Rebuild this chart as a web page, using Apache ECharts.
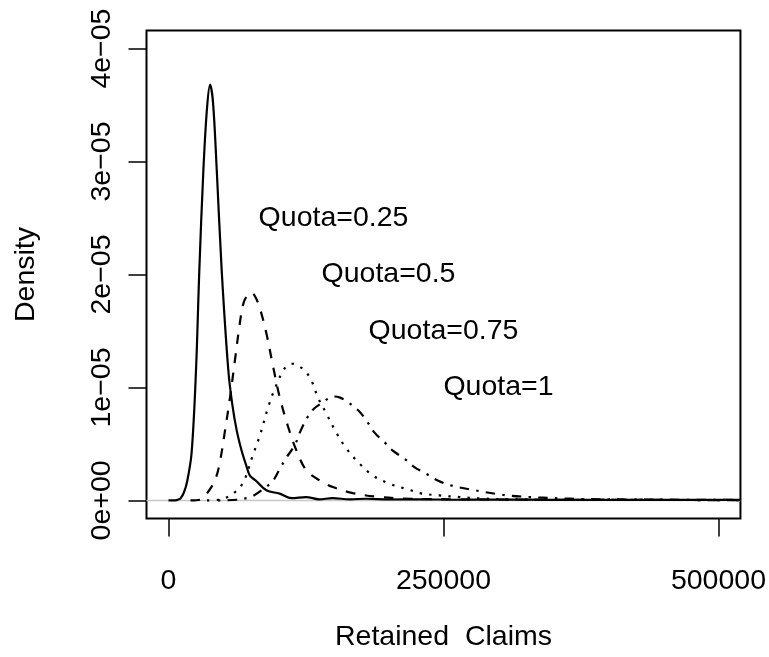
<!DOCTYPE html>
<html>
<head>
<meta charset="utf-8">
<script src="https://cdn.jsdelivr.net/npm/echarts@6/dist/echarts.min.js"></script>
<style>
html,body{margin:0;padding:0;background:#fff;}
#chart{width:769px;height:657px;}
</style>
</head>
<body>
<div id="chart"></div>
<script>
// Tick values / labels
const xTicks = [0, 250000, 500000];
const xTickLabels = ['0', '250000', '500000'];
const yTicks = [0, 1e-5, 2e-5, 3e-5, 4e-5];
const yTickLabels = ['0e+00', '1e\u221205', '2e\u221205', '3e\u221205', '4e\u221205'];

// Curve data (x = retained claims, y in units of 1e-5)
const q025X = [0, 5000, 8000, 11000, 14000, 17000, 21000, 25000, 28000, 31700, 35000, 37800, 40500, 43900, 48400, 54400, 58000, 62000, 66500, 71000, 74000, 80000, 89000, 101000, 112000, 125000, 137000, 149000, 165000, 180000, 200000, 230000, 260000, 300000, 350000, 400000, 450000, 520000];
const q025Y = [0, 0, 0.005, 0.02, 0.07, 0.17, 0.42, 1.15, 2.03, 2.92, 3.47, 3.68, 3.52, 2.92, 2.03, 1.15, 0.85, 0.62, 0.44, 0.30, 0.22, 0.17, 0.09, 0.06, 0.02, 0.03, 0.01, 0.02, 0.01, 0.015, 0.008, 0.01, 0.006, 0.008, 0.005, 0.006, 0.004, 0.004];

const q05X = [20000, 28700, 34800, 42300, 46900, 51400, 55900, 60400, 64300, 68000, 72000, 75600, 79000, 83100, 89200, 95200, 101200, 108800, 116400, 125400, 137500, 149500, 167700, 191900, 220000, 260000, 300000, 350000, 400000, 450000, 520000];
const q05Y = [0, 0.006, 0.06, 0.18, 0.35, 0.62, 0.91, 1.24, 1.53, 1.74, 1.82, 1.84, 1.80, 1.70, 1.47, 1.18, 0.91, 0.65, 0.44, 0.265, 0.177, 0.118, 0.065, 0.03, 0.015, 0.01, 0.008, 0.006, 0.005, 0.004, 0.003];

const q075X = [35000, 45000, 51400, 58900, 68000, 77000, 83100, 90600, 96700, 104200, 109000, 113000, 118000, 123900, 130000, 135900, 143500, 152600, 161700, 173700, 185900, 200900, 219000, 228000, 246200, 264400, 282500, 315700, 350000, 400000, 450000, 520000];
const q075Y = [0, 0.005, 0.02, 0.06, 0.16, 0.41, 0.575, 0.825, 0.99, 1.15, 1.20, 1.21, 1.19, 1.15, 1.06, 0.91, 0.77, 0.60, 0.46, 0.325, 0.22, 0.148, 0.094, 0.065, 0.044, 0.03, 0.018, 0.009, 0.006, 0.005, 0.004, 0.003];

const q1X = [45000, 62000, 75600, 86100, 95200, 101200, 107300, 114800, 119400, 125400, 132000, 140500, 146000, 151100, 156000, 163100, 172200, 179800, 187300, 196400, 203900, 214500, 223600, 234200, 244700, 256800, 279500, 303600, 327800, 352000, 376100, 420000, 470000, 520000];
const q1Y = [0, 0.006, 0.035, 0.10, 0.177, 0.28, 0.38, 0.49, 0.60, 0.72, 0.81, 0.87, 0.905, 0.92, 0.91, 0.87, 0.80, 0.71, 0.60, 0.515, 0.44, 0.37, 0.295, 0.236, 0.177, 0.133, 0.088, 0.05, 0.03, 0.02, 0.012, 0.008, 0.006, 0.005];

// Annotations
const labelTexts = ['Quota=0.25', 'Quota=0.5', 'Quota=0.75', 'Quota=1'];
const labelX = [150000, 200000, 250000, 300000];
const labelY = [2.5e-5, 2e-5, 1.5e-5, 1e-5];

const SCALE = 1e-5;
function pairs(xs, ys) { return xs.map((x, i) => [x, ys[i] * SCALE]); }

const FONT = 'Liberation Sans, Arial, Helvetica, sans-serif';
const FS = 28.5;

function curve(name, xs, ys, type) {
  return {
    name: name, type: 'line', data: pairs(xs, ys), showSymbol: false, symbol: 'none',
    smooth: 0.35, clip: true, z: 3,
    lineStyle: { color: '#000', width: 2.2, type: type, cap: 'butt' }
  };
}

const chart = echarts.init(document.getElementById('chart'), null, { renderer: 'canvas' });
chart.setOption({
  animation: false,
  backgroundColor: '#fff',
  grid: { left: 146.5, right: 27, top: 30.5, bottom: 138.5, show: true, borderColor: '#000', borderWidth: 2, backgroundColor: 'transparent', containLabel: false },
  xAxis: {
    type: 'value', min: -20000, max: 520000,
    name: 'Retained  Claims', nameLocation: 'middle', nameGap: 104,
    nameTextStyle: { fontFamily: FONT, fontSize: FS, color: '#000' },
    axisLine: { show: false, onZero: false },
    splitLine: { show: false },
    axisTick: { show: true, inside: false, length: 18, customValues: xTicks, lineStyle: { color: '#000', width: 1.5 } },
    axisLabel: { show: true, margin: 48, customValues: xTicks, fontFamily: FONT, fontSize: FS, color: '#000',
      formatter: function (v) { const i = xTicks.indexOf(v); return i >= 0 ? xTickLabels[i] : ''; } }
  },
  yAxis: {
    type: 'value', min: -0.16e-5, max: 4.16e-5,
    name: 'Density', nameLocation: 'middle', nameGap: 106, nameRotate: 90,
    nameTextStyle: { fontFamily: FONT, fontSize: FS, color: '#000' },
    axisLine: { show: false, onZero: false },
    splitLine: { show: false },
    axisTick: { show: true, inside: false, length: 18, customValues: yTicks, lineStyle: { color: '#000', width: 1.5 } },
    axisLabel: { show: true, margin: 30, rotate: 90, customValues: yTicks, fontFamily: FONT, fontSize: FS, color: '#000',
      formatter: function (v) { let best = 0; for (let i = 0; i < yTicks.length; i++) { if (Math.abs(yTicks[i] - v) < Math.abs(yTicks[best] - v)) best = i; } return yTickLabels[best]; } }
  },
  series: [
    { name: 'zero', type: 'line', data: [[-20000, 0], [520000, 0]], showSymbol: false, symbol: 'none', z: 1, silent: true,
      lineStyle: { color: '#c8c8c8', width: 1.5 } },
    curve('Quota=0.25', q025X, q025Y, 'solid'),
    curve('Quota=0.5', q05X, q05Y, [9.6, 9.6]),
    curve('Quota=0.75', q075X, q075Y, [2.4, 7.2]),
    curve('Quota=1', q1X, q1Y, [2.4, 7.2, 9.6, 7.2]),
    { name: 'labels', type: 'scatter', symbol: 'circle', symbolSize: 0, z: 5, silent: true,
      itemStyle: { color: '#000' },
      data: labelTexts.map((t, i) => ({ name: t, value: [labelX[i], labelY[i]] })),
      label: { show: true, position: 'inside', formatter: '{b}', fontFamily: FONT, fontSize: FS, color: '#000', textBorderWidth: 0, opacity: 1 } }
  ]
});
</script>
</body>
</html>
